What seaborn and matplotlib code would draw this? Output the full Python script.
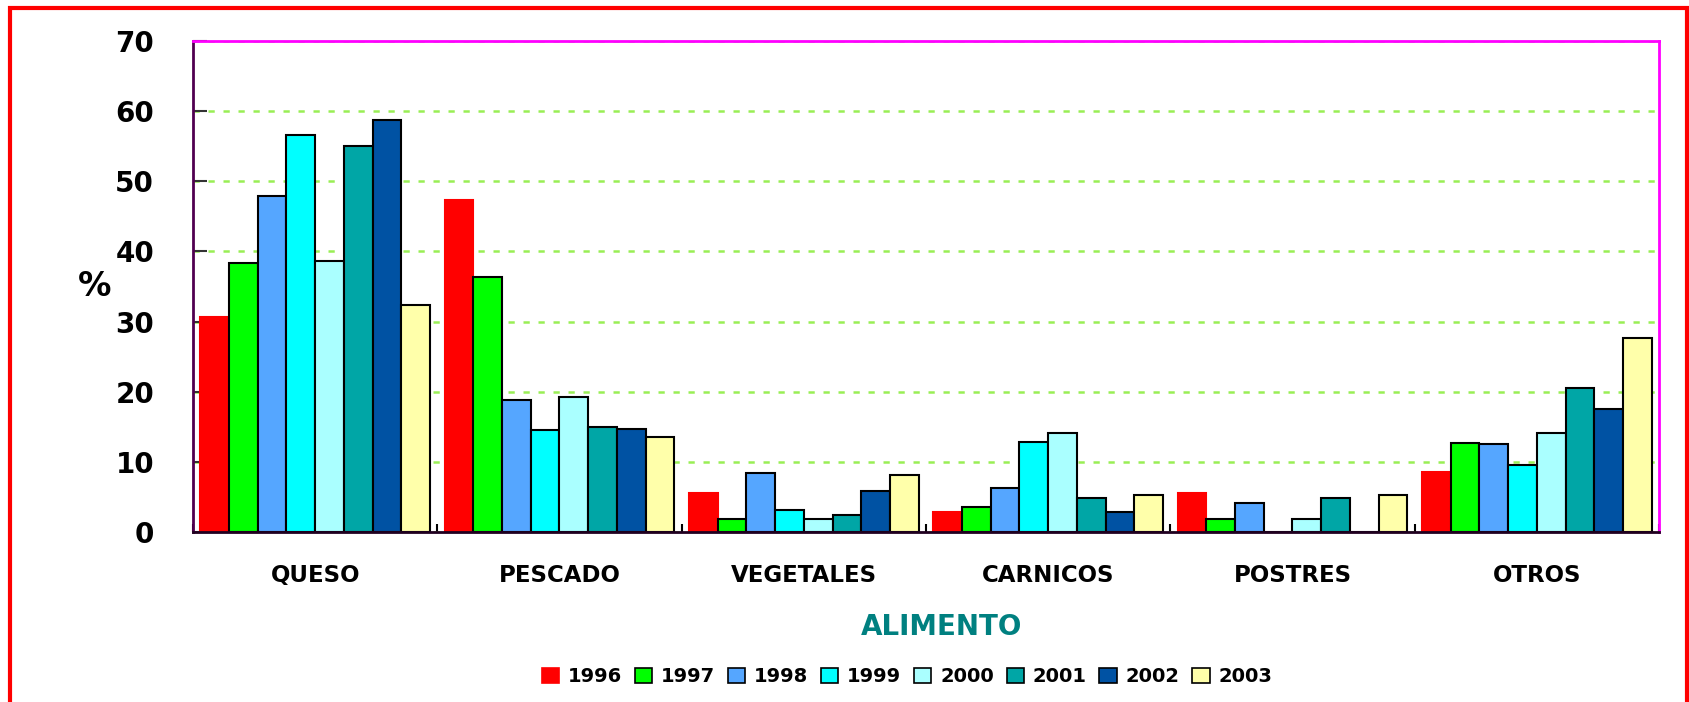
import numpy as np
import pandas as pd
import matplotlib
matplotlib.use('Agg')
import matplotlib.pyplot as plt
import matplotlib.patches as mpatches
import seaborn as sns

# Datos (%)
alimentos = ['QUESO', 'PESCADO', 'VEGETALES', 'CARNICOS', 'POSTRES', 'OTROS']
anios = ['1996', '1997', '1998', '1999', '2000', '2001', '2002', '2003']
v1996 = [30.6, 47.3, 5.5, 2.9, 5.5, 8.5]
v1997 = [38.3, 36.4, 1.8, 3.6, 1.8, 12.7]
v1998 = [47.9, 18.8, 8.4, 6.3, 4.1, 12.5]
v1999 = [56.6, 14.5, 3.2, 12.9, 0.0, 9.6]
v2000 = [38.7, 19.2, 1.8, 14.1, 1.8, 14.1]
v2001 = [55.0, 14.9, 2.4, 4.9, 4.9, 20.5]
v2002 = [58.8, 14.7, 5.9, 2.8, 0.0, 17.6]
v2003 = [32.3, 13.5, 8.1, 5.3, 5.3, 27.6]
colores = ['#FF0000', '#00FF00', '#55A6FF', '#00FFFF',
           '#AAFFFF', '#00A6A6', '#0052A3', '#FFFFAA']

series = [v1996, v1997, v1998, v1999, v2000, v2001, v2002, v2003]
df = pd.DataFrame([(a, anio, v) for anio, vals in zip(anios, series)
                   for a, v in zip(alimentos, vals)],
                  columns=['alimento', 'anio', 'pct'])

sns.set_style('white')
plt.rcParams['font.family'] = ['DejaVu Sans']
plt.rcParams['text.color'] = 'black'
plt.rcParams['xtick.color'] = 'black'
plt.rcParams['ytick.color'] = 'black'
plt.rcParams['xtick.labelcolor'] = 'black'
plt.rcParams['ytick.labelcolor'] = 'black'

fig = plt.figure(figsize=(16.9, 7.02), dpi=100)
ax = fig.add_axes([193 / 1690, 170 / 702, 1466 / 1690, 491 / 702])

sns.barplot(data=df, x='alimento', y='pct', hue='anio', order=alimentos,
            hue_order=anios, palette=colores, saturation=1, width=0.94,
            edgecolor='black', linewidth=1.5, ax=ax, legend=False)

# las barras de 1996 no tienen borde negro
for p in ax.containers[0]:
    p.set_edgecolor('#FF0000')

ax.set_ylim(0, 70)
ax.set_xlim(-0.5, 5.5)
ax.set_yticks(range(0, 71, 10))
ax.yaxis.grid(True, color='#99EE55', linestyle=(0, (2.5, 3.5)), linewidth=1.8)
ax.xaxis.grid(False)
ax.set_axisbelow(True)

ax.tick_params(axis='y', left=True, direction='in', length=10, width=1.5,
               color='#333333', pad=28, labelsize=20)
for t in ax.get_yticklabels():
    t.set_fontweight('bold')
ax.set_xticks(range(len(alimentos)))
ax.set_xticklabels(alimentos, fontsize=16.5, fontweight='bold')
ax.tick_params(axis='x', which='major', bottom=True, length=0, pad=23)
ax.set_xticks(np.arange(-0.5, 5.6, 1), minor=True)
ax.tick_params(axis='x', which='minor', bottom=True, direction='in', length=6,
               width=1.5, color='black')

ax.spines['left'].set_color('#500050')
ax.spines['left'].set_linewidth(2)
ax.spines['bottom'].set_color('#200020')
ax.spines['bottom'].set_linewidth(2)
for s in ['top', 'right']:
    ax.spines[s].set_color('#FF00FF')
    ax.spines[s].set_linewidth(2)

ax.set_xlabel('')
ax.set_ylabel('')
fig.text(95 / 1690, 1 - 287 / 702, '%', fontsize=24, fontweight='bold',
         ha='center', va='center')
fig.text(942 / 1690, 1 - 627 / 702, 'ALIMENTO', fontsize=20,
         fontweight='bold', color='#008080', ha='center', va='center')

handles = [mpatches.Patch(facecolor=c,
                          edgecolor=('#FF0000' if i == 0 else 'black'),
                          linewidth=1.2)
           for i, c in enumerate(colores)]
fig.legend(handles, anios, loc='center', bbox_to_anchor=(907 / 1690, 1 - 677 / 702),
           ncol=8, frameon=False, prop={'weight': 'bold', 'size': 14},
           handlelength=0.9, handleheight=0.8, handletextpad=0.45,
           columnspacing=0.65, borderaxespad=0)

# marco rojo exterior
fig.patches.append(mpatches.Rectangle((10 / 1690, -0.02), 1677 / 1690, 1 - 8 / 702 + 0.02,
                                      transform=fig.transFigure, fill=False,
                                      edgecolor='#FF0000', linewidth=3))

plt.savefig('out.png', dpi=100)
